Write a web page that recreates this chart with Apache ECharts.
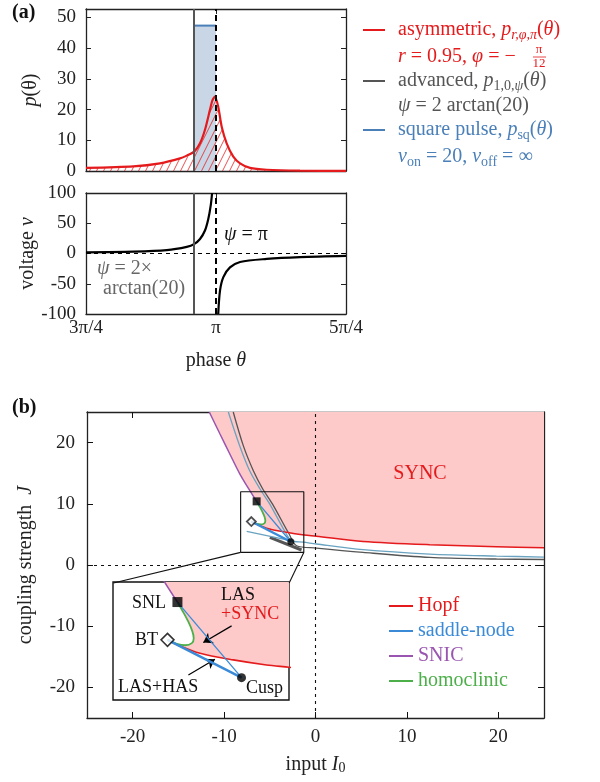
<!DOCTYPE html>
<html><head><meta charset="utf-8">
<script src="https://cdn.jsdelivr.net/npm/echarts@6/dist/echarts.min.js"></script>
<style>html,body{margin:0;padding:0;background:#fff}#c{width:600px;height:782px}</style>
</head><body><div id="c"></div>
<script>
// ---------- panel (a) data ----------
const thetaTickValues = [3 * Math.PI / 4, Math.PI, 5 * Math.PI / 4];
const thetaTickLabels = ['3π/4', 'π', '5π/4'];
const pTickValues = [0, 10, 20, 30, 40, 50];
const vTickValues = [-100, -50, 0, 50, 100];

// asymmetric PRC p_{r,phi,pi}(theta)
const redTheta = [2.356, 2.642, 2.803, 2.924, 2.965, 3.010, 3.045, 3.075, 3.105, 3.120, 3.135, 3.155, 3.176, 3.206, 3.246, 3.287, 3.347, 3.448, 3.649, 3.927];
const redP     = [1.0,   1.5,   2.5,   4.1,   5.0,   6.3,   9.0,   13.4,  19.9,  23.0,  24.2,  20.9,  14.4,  9.0,   4.7,   2.5,   1.0,   0.4,   0.1,   0.05];
// square pulse p_sq(theta)
const pulseTheta = [3.009, Math.PI];
const pulseP = [47.3, 47.3];
// advanced PRC location psi
const advancedTheta = 3.009;
// voltage v(theta)
const vLeftTheta  = [2.356, 2.642, 2.844, 2.965, 3.009, 3.045, 3.075, 3.095, 3.110, 3.118];
const vLeft       = [2,     3,     5.5,   11,    15.5,  24,    38,    57,    80,    100];
const vRightTheta = [3.155, 3.166, 3.186, 3.226, 3.287, 3.448, 3.649, 3.927];
const vRight      = [-100,  -61,   -39,   -23,   -14,   -9,    -6,    -4];

// ---------- panel (b) data ----------
const iTickValues = [-20, -10, 0, 10, 20];
const jTickValues = [-20, -10, 0, 10, 20];
const snicI = [-11.62, -10.45, -9.36, -8.27, -7.17, -6.44];
const snicJ = [25, 21.4, 18.1, 14.85, 12.1, 10.4];
const homI = [-6.44, -6.18, -5.86, -5.60, -5.49, -5.60, -5.99, -6.48, -6.86, -7.02];
const homJ = [10.4, 9.73, 8.85, 7.97, 7.25, 6.81, 6.63, 6.75, 7.01, 7.1];
const hopfI = [-7.02, -6.57, -5.12, -3.18, -1.24, 0.07, 5.2, 12.5, 19.8, 25];
const hopfJ = [7.1, 6.75, 5.93, 5.35, 4.91, 4.71, 3.85, 3.31, 2.99, 2.83];
const snUpI = [-6.44, -2.7];
const snUpJ = [10.4, 3.8];
const snLoI = [-7.02, -2.7];
const snLoJ = [7.1, 3.8];
const steelI = [-9.54, -8.3, -7.2, -6.1, -5.0, -3.2, -2.6, -1.35, 0.1, 5.2, 12.5, 19.8, 25];
const steelJ = [25, 19.5, 15.4, 12.5, 9.95, 5.1, 3.95, 3.75, 3.43, 2.5, 1.79, 1.46, 1.3];
const steelLoI = [-7.53, -2.6];
const steelLoJ = [5.48, 3.95];
const greyI = [-9.0, -7.9, -6.8, -5.8, -4.7, -2.9, -2.07, 0.1, 5.2, 12.5, 19.8, 25];
const greyJ = [25, 19.5, 15.4, 12.5, 9.95, 5.1, 3.15, 2.77, 2.06, 1.24, 0.98, 0.9];
const greyLoI = [-4.99, -1.53];
const greyLoJ = [4.5, 2.45];
const snlPoint = [-6.44, 10.4];
const btPoint = [-7.02, 7.1];
const cuspPoint = [-2.7, 3.8];
const zoomBoxI = [-8.19, -1.28];
const zoomBoxJ = [2.06, 11.96];
const insetCornerI = [-22.1, -2.88];
const insetCornerJ = -2.94;
const insetRangeI = [-10.2, 0.07];
const insetRangeJ = [1.85, 12.15];
const arrowSyncFrom = [-3.28, 8.32], arrowSyncTo = [-4.93, 6.86];
const arrowHasFrom = [-5.80, 4.03], arrowHasTo = [-4.25, 5.41];

// ---------- helpers ----------
const F = '"Liberation Serif", "Times New Roman", serif';
const RED = '#e41a1c', GREY = '#555555', BLUE = '#4a7fb8';
const SN = '#3a8ad8', SNIC = '#9a55b0', HOM = '#4daf4a', PINK = '#fdc9c9', STEEL = '#6aa3c0';
const TXT = 20, TICK = 19, SUB = 14;
const zip = (a, b) => a.map((x, i) => [x, b[i]]);

const hatch = document.createElement('canvas');
hatch.width = 7; hatch.height = 14;
(function () {
  const c = hatch.getContext('2d');
  c.strokeStyle = 'rgba(228,26,28,0.85)'; c.lineWidth = 0.9;
  c.beginPath();
  c.moveTo(0, 14); c.lineTo(7, 0);
  c.moveTo(-7, 14); c.lineTo(0, 0);
  c.moveTo(7, 14); c.lineTo(14, 0);
  c.stroke();
})();

const syncPoly = zip(snicI, snicJ).concat(zip(homI, homJ).slice(1)).concat(zip(hopfI, hopfJ).slice(1)).concat([[25, 25]]);

const lineBase = { symbol: 'none', silent: true, animation: false };
function tickAxis(extra) {
  return Object.assign({
    type: 'value', splitLine: { show: false },
    axisLine: { show: true, onZero: false, lineStyle: { color: '#222', width: 1.3 } },
    axisTick: { show: true, inside: true, length: 5, lineStyle: { color: '#222', width: 1.2 } },
    axisLabel: { show: false }
  }, extra);
}
function richT(color) {
  return {
    n: { fill: color, fontFamily: F, fontSize: TXT, lineHeight: 24 },
    i: { fill: color, fontFamily: F, fontSize: TXT, fontStyle: 'italic', lineHeight: 24 },
    s: { fill: color, fontFamily: F, fontSize: SUB, fontStyle: 'italic', lineHeight: 16, verticalAlign: 'bottom' },
    su: { fill: color, fontFamily: F, fontSize: SUB, lineHeight: 16, verticalAlign: 'bottom' }
  };
}
function legText(x, y, text, color) {
  return { type: 'text', x: x, y: y, z: 100, silent: true, style: { text: text, rich: richT(color), fill: color, fontFamily: F, fontSize: TXT, verticalAlign: 'middle', align: 'left' } };
}
function legLine(y, color) {
  return { type: 'line', z: 100, silent: true, shape: { x1: 363, y1: y, x2: 385, y2: y }, style: { stroke: color, lineWidth: 2 } };
}
function plainText(x, y, text, color, size, align, weight) {
  return { type: 'text', x: x, y: y, z: 100, silent: true, style: { text: text, fill: color, fontFamily: F, fontSize: size || TXT, fontWeight: weight || 'normal', verticalAlign: 'middle', align: align || 'left' } };
}
const labelStyle = { color: '#222', fontFamily: F, fontSize: TICK };
const nameRich = { i: { fontStyle: 'italic', fontFamily: F, fontSize: TXT, color: '#222' }, s: { fontFamily: F, fontSize: SUB, color: '#222', verticalAlign: 'bottom', lineHeight: 16 } };
const nameStyle = { fontFamily: F, fontSize: TXT, color: '#222', rich: nameRich };

const option = {
  animation: false,
  backgroundColor: '#fff',
  grid: [
    { left: 86, top: 9, width: 260, height: 162 },
    { left: 86, top: 193, width: 260, height: 121 },
    { left: 87, top: 412, width: 457, height: 306 },
    { left: 113, top: 582, width: 176, height: 118, show: true, backgroundColor: '#fff', borderColor: '#111', borderWidth: 1.4, z: 3 }
  ],
  xAxis: [
    tickAxis({ gridIndex: 0, min: 3 * Math.PI / 4, max: 5 * Math.PI / 4, axisTick: { show: true, inside: true, length: 5, customValues: thetaTickValues, lineStyle: { color: '#222' } } }),
    tickAxis({ gridIndex: 0, position: 'top', min: 3 * Math.PI / 4, max: 5 * Math.PI / 4, axisTick: { show: true, inside: true, length: 5, customValues: thetaTickValues, lineStyle: { color: '#222' } } }),
    tickAxis({ gridIndex: 1, min: 3 * Math.PI / 4, max: 5 * Math.PI / 4,
      axisTick: { show: true, inside: true, length: 5, customValues: thetaTickValues, lineStyle: { color: '#222' } },
      axisLabel: { show: true, margin: 5, customValues: thetaTickValues, ...labelStyle,
        formatter: v => { const k = thetaTickValues.findIndex(t => Math.abs(t - v) < 1e-6); return k >= 0 ? thetaTickLabels[k] : ''; } },
      name: 'phase {i|θ}', nameLocation: 'middle', nameGap: 37, nameTextStyle: nameStyle }),
    tickAxis({ gridIndex: 1, position: 'top', min: 3 * Math.PI / 4, max: 5 * Math.PI / 4, axisTick: { show: true, inside: true, length: 5, customValues: thetaTickValues, lineStyle: { color: '#222' } } }),
    tickAxis({ gridIndex: 2, min: -25, max: 25, interval: 5,
      axisTick: { show: true, inside: true, length: 6, customValues: iTickValues, lineStyle: { color: '#111' } },
      axisLabel: { show: true, margin: 10, customValues: iTickValues, ...labelStyle },
      name: 'input {i|I}{s|0}', nameLocation: 'middle', nameGap: 37, nameTextStyle: nameStyle }),
    tickAxis({ gridIndex: 2, position: 'top', min: -25, max: 25, interval: 5, axisTick: { show: true, inside: true, length: 6, customValues: iTickValues, lineStyle: { color: '#111' } } }),
    { type: 'value', gridIndex: 3, min: insetRangeI[0], max: insetRangeI[1], show: false, splitLine: { show: false } }
  ],
  yAxis: [
    tickAxis({ gridIndex: 0, min: 0, max: 52.7,
      axisTick: { show: true, inside: true, length: 5, customValues: pTickValues, lineStyle: { color: '#222' } },
      axisLabel: { show: true, margin: 10, customValues: pTickValues, ...labelStyle },
      name: '{i|p}(θ)', nameLocation: 'middle', nameGap: 45, nameRotate: 90, nameTextStyle: nameStyle }),
    tickAxis({ gridIndex: 0, position: 'right', min: 0, max: 52.7, axisTick: { show: true, inside: true, length: 5, customValues: pTickValues, lineStyle: { color: '#222' } } }),
    tickAxis({ gridIndex: 1, min: -100, max: 100, interval: 50,
      axisTick: { show: true, inside: true, length: 5, customValues: vTickValues, lineStyle: { color: '#222' } },
      axisLabel: { show: true, margin: 10, customValues: vTickValues, ...labelStyle },
      name: 'voltage {i|v}', nameLocation: 'middle', nameGap: 47, nameRotate: 90, nameTextStyle: nameStyle }),
    tickAxis({ gridIndex: 1, position: 'right', min: -100, max: 100, interval: 50, axisTick: { show: true, inside: true, length: 5, customValues: vTickValues, lineStyle: { color: '#222' } } }),
    tickAxis({ gridIndex: 2, min: -25, max: 25, interval: 5,
      axisTick: { show: true, inside: true, length: 6, customValues: jTickValues, lineStyle: { color: '#111' } },
      axisLabel: { show: true, margin: 12, customValues: jTickValues, ...labelStyle },
      name: 'coupling strength  {i|J}', nameLocation: 'middle', nameGap: 51, nameRotate: 90, nameTextStyle: nameStyle }),
    tickAxis({ gridIndex: 2, position: 'right', min: -25, max: 25, interval: 5, axisTick: { show: true, inside: true, length: 6, customValues: jTickValues, lineStyle: { color: '#111' } } }),
    { type: 'value', gridIndex: 3, min: insetRangeJ[0], max: insetRangeJ[1], show: false, splitLine: { show: false } }
  ],
  legend: {
    orient: 'vertical', left: 384, top: 591, itemWidth: 24, itemHeight: 2, itemGap: 5, icon: 'rect',
    textStyle: { fontFamily: F, fontSize: TXT }, selectedMode: false,
    data: [
      { name: 'Hopf', itemStyle: { color: RED }, textStyle: { color: RED } },
      { name: 'saddle-node', itemStyle: { color: SN }, textStyle: { color: SN } },
      { name: 'SNIC', itemStyle: { color: SNIC }, textStyle: { color: SNIC } },
      { name: 'homoclinic', itemStyle: { color: HOM }, textStyle: { color: HOM } }
    ]
  },
  series: [
    // ---- (a) top ----
    Object.assign({ type: 'line', xAxisIndex: 0, yAxisIndex: 0, z: 1, data: zip(pulseTheta, pulseP),
      lineStyle: { color: BLUE, width: 2 }, areaStyle: { color: '#c9d6e6', opacity: 1 } }, lineBase),
    Object.assign({ type: 'line', xAxisIndex: 0, yAxisIndex: 0, z: 3, smooth: 0.25, data: zip(redTheta, redP),
      lineStyle: { color: RED, width: 2.2 }, areaStyle: { color: { image: hatch, repeat: 'repeat' }, opacity: 1 } }, lineBase),
    Object.assign({ type: 'line', xAxisIndex: 0, yAxisIndex: 0, z: 5, data: [],
      markLine: { silent: true, symbol: ['none', 'none'], label: { show: false }, animation: false,
        data: [ { xAxis: advancedTheta, lineStyle: { color: GREY, width: 2, type: 'solid' } },
                { xAxis: Math.PI, lineStyle: { color: '#000', width: 2, type: [6, 4] } } ] } }, lineBase),
    // ---- (a) bottom ----
    Object.assign({ type: 'line', xAxisIndex: 2, yAxisIndex: 2, z: 3, smooth: 0.3, data: zip(vLeftTheta, vLeft), lineStyle: { color: '#000', width: 2.2 } }, lineBase),
    Object.assign({ type: 'line', xAxisIndex: 2, yAxisIndex: 2, z: 3, smooth: 0.3, data: zip(vRightTheta, vRight), lineStyle: { color: '#000', width: 2.2 } }, lineBase),
    Object.assign({ type: 'line', xAxisIndex: 2, yAxisIndex: 2, z: 2, data: [],
      markLine: { silent: true, symbol: ['none', 'none'], label: { show: false }, animation: false,
        data: [ { yAxis: 0, lineStyle: { color: '#000', width: 1, type: [4, 4] } },
                { xAxis: advancedTheta, lineStyle: { color: GREY, width: 2, type: 'solid' } },
                { xAxis: Math.PI, lineStyle: { color: '#000', width: 2, type: [6, 4] } } ] } }, lineBase),
    // ---- (b) main ----
    Object.assign({ type: 'line', xAxisIndex: 4, yAxisIndex: 4, z: 0, data: [],
      markLine: { silent: true, symbol: ['none', 'none'], label: { show: false }, animation: false,
        data: [ { yAxis: 0, lineStyle: { color: '#111', width: 1.1, type: [3, 4] } },
                { xAxis: 0, lineStyle: { color: '#111', width: 1.1, type: [3, 4] } } ] } }, lineBase),
    { type: 'custom', xAxisIndex: 4, yAxisIndex: 4, z: 1, silent: true, clip: true, data: [[0, 0]],
      renderItem: (p, api) => ({ type: 'polygon', shape: { points: syncPoly.map(q => api.coord(q)) }, style: { fill: PINK } }) },
    Object.assign({ type: 'line', xAxisIndex: 4, yAxisIndex: 4, z: 2, smooth: 0.3, data: zip(greyI, greyJ), lineStyle: { color: GREY, width: 1.3 } }, lineBase),
    Object.assign({ type: 'line', xAxisIndex: 4, yAxisIndex: 4, z: 2, data: zip(greyLoI, greyLoJ), lineStyle: { color: GREY, width: 3 } }, lineBase),
    Object.assign({ type: 'line', xAxisIndex: 4, yAxisIndex: 4, z: 2, smooth: 0.3, data: zip(steelI, steelJ), lineStyle: { color: STEEL, width: 1.3 } }, lineBase),
    Object.assign({ type: 'line', xAxisIndex: 4, yAxisIndex: 4, z: 2, data: zip(steelLoI, steelLoJ), lineStyle: { color: STEEL, width: 1.3 } }, lineBase),
    Object.assign({ name: 'Hopf', type: 'line', xAxisIndex: 4, yAxisIndex: 4, z: 3, smooth: 0.3, data: zip(hopfI, hopfJ), lineStyle: { color: RED, width: 1.5 }, itemStyle: { color: RED } }, lineBase),
    Object.assign({ name: 'SNIC', type: 'line', xAxisIndex: 4, yAxisIndex: 4, z: 3, smooth: 0.3, data: zip(snicI, snicJ), lineStyle: { color: SNIC, width: 1.5 }, itemStyle: { color: SNIC } }, lineBase),
    Object.assign({ name: 'homoclinic', type: 'line', xAxisIndex: 4, yAxisIndex: 4, z: 3, smooth: 0.4, data: zip(homI, homJ), lineStyle: { color: HOM, width: 1.8 }, itemStyle: { color: HOM } }, lineBase),
    Object.assign({ name: 'saddle-node', type: 'line', xAxisIndex: 4, yAxisIndex: 4, z: 3, data: zip(snUpI, snUpJ), lineStyle: { color: SN, width: 1.3 }, itemStyle: { color: SN } }, lineBase),
    Object.assign({ type: 'line', xAxisIndex: 4, yAxisIndex: 4, z: 3, data: zip(snLoI, snLoJ), lineStyle: { color: SN, width: 2.4 } }, lineBase),
    Object.assign({ type: 'line', xAxisIndex: 4, yAxisIndex: 4, z: 4, clip: false,
      data: [[zoomBoxI[0], zoomBoxJ[0]], [zoomBoxI[1], zoomBoxJ[0]], [zoomBoxI[1], zoomBoxJ[1]], [zoomBoxI[0], zoomBoxJ[1]], [zoomBoxI[0], zoomBoxJ[0]]],
      lineStyle: { color: '#111', width: 1.1 } }, lineBase),
    Object.assign({ type: 'line', xAxisIndex: 4, yAxisIndex: 4, z: 4, data: [[zoomBoxI[0], zoomBoxJ[0]], [insetCornerI[0], insetCornerJ]], lineStyle: { color: '#111', width: 1.1 } }, lineBase),
    Object.assign({ type: 'line', xAxisIndex: 4, yAxisIndex: 4, z: 4, data: [[zoomBoxI[1], zoomBoxJ[0]], [insetCornerI[1], insetCornerJ]], lineStyle: { color: '#111', width: 1.1 } }, lineBase),
    { type: 'scatter', xAxisIndex: 4, yAxisIndex: 4, z: 5, silent: true, symbol: 'rect', symbolSize: 8, data: [snlPoint], itemStyle: { color: '#000' } },
    { type: 'scatter', xAxisIndex: 4, yAxisIndex: 4, z: 5, silent: true, symbol: 'diamond', symbolSize: 9, data: [btPoint], itemStyle: { color: '#fff', borderColor: '#222', borderWidth: 1.8 } },
    { type: 'scatter', xAxisIndex: 4, yAxisIndex: 4, z: 5, silent: true, symbol: 'circle', symbolSize: 7, data: [cuspPoint], itemStyle: { color: '#000' } },
    // ---- inset ----
    { type: 'custom', xAxisIndex: 6, yAxisIndex: 6, z: 4, silent: true, clip: true, data: [[0, 0]],
      renderItem: (p, api) => ({ type: 'polygon', shape: { points: syncPoly.map(q => api.coord(q)) }, style: { fill: PINK } }) },
    Object.assign({ type: 'line', xAxisIndex: 6, yAxisIndex: 6, z: 5, smooth: 0.3, data: zip(hopfI, hopfJ), lineStyle: { color: RED, width: 1.6 } }, lineBase),
    Object.assign({ type: 'line', xAxisIndex: 6, yAxisIndex: 6, z: 5, smooth: 0.3, data: zip(snicI, snicJ), lineStyle: { color: SNIC, width: 1.6 } }, lineBase),
    Object.assign({ type: 'line', xAxisIndex: 6, yAxisIndex: 6, z: 5, smooth: 0.4, data: zip(homI, homJ), lineStyle: { color: HOM, width: 1.8 } }, lineBase),
    Object.assign({ type: 'line', xAxisIndex: 6, yAxisIndex: 6, z: 5, data: zip(snUpI, snUpJ), lineStyle: { color: SN, width: 1.3 } }, lineBase),
    Object.assign({ type: 'line', xAxisIndex: 6, yAxisIndex: 6, z: 5, data: zip(snLoI, snLoJ), lineStyle: { color: SN, width: 2.4 },
      markLine: { silent: true, symbol: ['none', 'arrow'], symbolSize: 9, label: { show: false }, animation: false,
        lineStyle: { color: '#000', width: 1.2, type: 'solid' },
        data: [ [{ coord: arrowSyncFrom }, { coord: arrowSyncTo }], [{ coord: arrowHasFrom }, { coord: arrowHasTo }] ] } }, lineBase),
    { type: 'scatter', xAxisIndex: 6, yAxisIndex: 6, z: 6, silent: true, symbol: 'rect', symbolSize: 10, data: [snlPoint], itemStyle: { color: '#000' } },
    { type: 'scatter', xAxisIndex: 6, yAxisIndex: 6, z: 6, silent: true, symbol: 'diamond', symbolSize: 13, data: [btPoint], itemStyle: { color: '#fff', borderColor: '#000', borderWidth: 1.5 } },
    { type: 'scatter', xAxisIndex: 6, yAxisIndex: 6, z: 6, silent: true, symbol: 'circle', symbolSize: 9, data: [cuspPoint], itemStyle: { color: '#000' } }
  ],
  graphic: [
    plainText(12, 13, '(a)', '#111', 20, 'left', 'bold'),
    plainText(12, 408, '(b)', '#111', 20, 'left', 'bold'),
    legLine(30, RED), legText(398, 30, '{n|asymmetric, }{i|p}{s|r,φ,π}{n|(}{i|θ}{n|)}', RED),
    legText(398, 57, '{i|r}{n| = 0.95, }{i|φ}{n| = −}', RED),
    plainText(539, 50, 'π', RED, 13, 'center'),
    { type: 'line', z: 100, silent: true, shape: { x1: 533, y1: 57, x2: 546, y2: 57 }, style: { stroke: RED, lineWidth: 0.8 } },
    plainText(539, 64, '12', RED, 13, 'center'),
    legLine(81, GREY), legText(398, 81, '{n|advanced, }{i|p}{su|1,0,}{s|ψ}{n|(}{i|θ}{n|)}', GREY),
    legText(398, 106, '{i|ψ}{n| = 2 arctan(20)}', GREY),
    legLine(130, BLUE), legText(398, 130, '{n|square pulse, }{i|p}{su|sq}{n|(}{i|θ}{n|)}', BLUE),
    legText(398, 157, '{i|v}{su|on}{n| = 20, }{i|v}{su|off}{n| = ∞}', BLUE),
    legText(224, 235, '{i|ψ}{n| = π}', '#111'),
    legText(97, 269, '{i|ψ}{n| = 2×}', '#666'),
    plainText(103, 289, 'arctan(20)', '#666', TXT, 'left'),
    plainText(420, 474, 'SYNC', RED, 20, 'center'),
    plainText(166, 603, 'SNL', '#111', 18, 'right'),
    plainText(158, 640, 'BT', '#111', 18, 'right'),
    plainText(221, 595, 'LAS', '#111', 18, 'left'),
    plainText(221, 614, '+SYNC', RED, 18, 'left'),
    plainText(118, 687, 'LAS+HAS', '#111', 18, 'left'),
    plainText(246, 688, 'Cusp', '#111', 18, 'left')
  ]
};
const chart = echarts.init(document.getElementById('c'), null, { renderer: 'canvas' });
chart.setOption(option);
</script>
</body></html>
